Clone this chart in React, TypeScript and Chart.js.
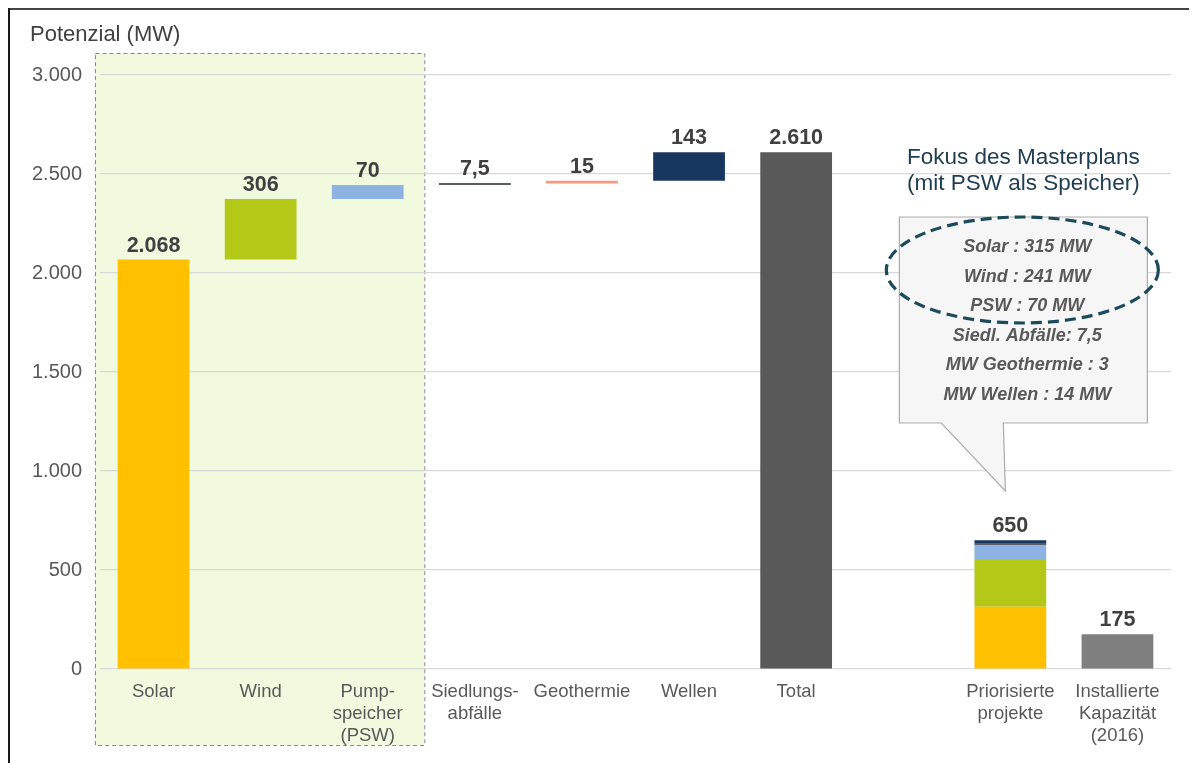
import React, { useEffect, useRef } from "react";
import { Chart, registerables } from "chart.js";
Chart.register(...registerables);

const categories: string[][] = [
  ["Solar"],
  ["Wind"],
  ["Pump-", "speicher", "(PSW)"],
  ["Siedlungs-", "abfälle"],
  ["Geothermie"],
  ["Wellen"],
  ["Total"],
  [""],
  ["Priorisierte", "projekte"],
  ["Installierte", "Kapazität", "(2016)"],
];
const sourceNames = ["Solar", "Wind", "PSW", "Siedlungsabfälle", "Geothermie", "Wellen"];
const potentialMW = [2068, 306, 70, 7.5, 15, 143];
const prioritizedMW = [315, 241, 70, 7.5, 3, 14];
const totalMW = 2610;
const installedMW = 175;
const valueLabels = ["2.068", "306", "70", "7,5", "15", "143", "2.610", "", "650", "175"];
const calloutLines = [
  "Solar : 315 MW",
  "Wind : 241 MW",
  "PSW : 70 MW",
  "Siedl. Abfälle: 7,5",
  "MW Geothermie : 3",
  "MW Wellen : 14 MW",
];
const calloutTitle = ["Fokus des Masterplans", "(mit PSW als Speicher)"];
const yTitle = "Potenzial (MW)";

const sourceColors = ["#FFC000", "#B4C817", "#8DB3E2", "#575C68", "#F7997C", "#17375E"];
const totalColor = "#595959";
const installedColor = "#7F7F80";
const FONT = "'Liberation Sans', Arial, sans-serif";

function fmt(v: number): string {
  const s = Math.round(v).toString();
  return s.replace(/\B(?=(\d{3})+(?!\d))/g, ".");
}

export default function App() {
  const ref = useRef<HTMLCanvasElement | null>(null);
  useEffect(() => {
    const canvas = ref.current;
    if (!canvas) return;
    const n = categories.length;
    const datasets: any[] = [];
    let cumP = 0;
    let cumQ = 0;
    sourceNames.forEach((name, i) => {
      const data: any[] = new Array(n).fill(null);
      data[i] = [cumP, cumP + potentialMW[i]];
      data[8] = [cumQ, cumQ + prioritizedMW[i]];
      cumP += potentialMW[i];
      cumQ += prioritizedMW[i];
      datasets.push({
        label: name,
        data,
        backgroundColor: sourceColors[i],
        borderWidth: 0,
        minBarLength: i === 3 ? 2 : 0,
      });
    });
    const tData: any[] = new Array(n).fill(null);
    tData[6] = [0, totalMW];
    datasets.push({ label: "Total", data: tData, backgroundColor: totalColor, borderWidth: 0 });
    const iData: any[] = new Array(n).fill(null);
    iData[9] = [0, installedMW];
    datasets.push({ label: "Installiert", data: iData, backgroundColor: installedColor, borderWidth: 0 });

    const deco = {
      id: "deco",
      beforeDraw(chart: any) {
        const { ctx, chartArea, scales } = chart;
        const x = scales.x;
        ctx.save();
        const left = chartArea.left - 5;
        const right = (x.getPixelForValue(2) + x.getPixelForValue(3)) / 2 + 3;
        const top = chartArea.top - 22;
        const bottom = chart.height - 18;
        ctx.fillStyle = "#F1FADF";
        ctx.fillRect(left, top, right - left, bottom - top);
        ctx.setLineDash([4, 3]);
        ctx.strokeStyle = "#8a8a8a";
        ctx.lineWidth = 1;
        ctx.strokeRect(left + 0.5, top + 0.5, right - left, bottom - top);
        ctx.setLineDash([]);
        ctx.fillStyle = "#444";
        ctx.fillRect(0, 0, chart.width, 2);
        ctx.fillStyle = "#1a1a1a";
        ctx.fillRect(0, 0, 2, chart.height);
        ctx.restore();
      },
      afterDatasetsDraw(chart: any) {
        const { ctx } = chart;
        ctx.save();
        ctx.font = `bold 21.5px ${FONT}`;
        ctx.fillStyle = "#404040";
        ctx.textAlign = "center";
        ctx.textBaseline = "alphabetic";
        for (let j = 0; j < n; j++) {
          if (!valueLabels[j]) continue;
          let minY = Infinity;
          let cx = 0;
          chart.data.datasets.forEach((ds: any, d: number) => {
            if (ds.data[j] == null) return;
            const el = chart.getDatasetMeta(d).data[j];
            const t = Math.min(el.y, el.base);
            if (t < minY) {
              minY = t;
              cx = el.x;
            }
          });
          ctx.fillText(valueLabels[j], cx, minY - 8);
        }
        ctx.restore();
      },
      afterDraw(chart: any) {
        const { ctx, scales } = chart;
        const px = scales.x.getPixelForValue(8);
        ctx.save();
        ctx.font = `22px ${FONT}`;
        ctx.fillStyle = "#404040";
        ctx.textAlign = "left";
        ctx.textBaseline = "middle";
        ctx.fillText(yTitle, 22, 27);
        ctx.font = `22.5px ${FONT}`;
        ctx.fillStyle = "#213F52";
        ctx.textAlign = "center";
        ctx.fillText(calloutTitle[0], px + 13, 150);
        ctx.fillText(calloutTitle[1], px + 13, 176);
        const bl = px - 111, br = px + 137, bt = 209, bb = 415;
        ctx.beginPath();
        ctx.moveTo(bl, bt);
        ctx.lineTo(br, bt);
        ctx.lineTo(br, bb);
        ctx.lineTo(px - 7, bb);
        ctx.lineTo(px - 5, 483);
        ctx.lineTo(px - 69, bb);
        ctx.lineTo(bl, bb);
        ctx.closePath();
        ctx.fillStyle = "#F6F6F6";
        ctx.fill();
        ctx.strokeStyle = "#ABABAB";
        ctx.lineWidth = 1.2;
        ctx.stroke();
        ctx.beginPath();
        ctx.ellipse(px + 12, 262, 136, 53, 0, 0, Math.PI * 2);
        ctx.setLineDash([11, 6]);
        ctx.strokeStyle = "#1C4A5A";
        ctx.lineWidth = 3.2;
        ctx.stroke();
        ctx.setLineDash([]);
        ctx.font = `italic bold 18px ${FONT}`;
        ctx.fillStyle = "#595959";
        calloutLines.forEach((t, i) => {
          ctx.fillText(t, px + 17, 239 + i * 29.6);
        });
        ctx.restore();
      },
    };

    const chart = new Chart(canvas, {
      type: "bar",
      data: { labels: categories as any, datasets },
      options: {
        animation: false,
        responsive: false,
        maintainAspectRatio: false,
        layout: { padding: { top: 67, right: 26, left: 0, bottom: 0 } },
        datasets: { bar: { grouped: false, categoryPercentage: 1, barPercentage: 0.67 } } as any,
        plugins: { legend: { display: false }, tooltip: { enabled: false } },
        scales: {
          x: {
            grid: { display: false },
            border: { display: false },
            ticks: {
              color: "#595959",
              font: { family: FONT, size: 18.5, lineHeight: 1.19 },
              padding: 4,
              maxRotation: 0,
              autoSkip: false,
            },
            afterFit: (s: any) => {
              s.height = 94;
            },
          },
          y: {
            min: 0,
            max: 3000,
            grid: { color: "#D9D9D9", lineWidth: 1.2, drawTicks: false },
            border: { display: false },
            ticks: {
              stepSize: 500,
              color: "#595959",
              font: { family: FONT, size: 20 },
              padding: 18,
              callback: (v: any) => fmt(Number(v)),
            },
            afterFit: (s: any) => {
              s.width = 92;
            },
          },
        },
      },
      plugins: [deco],
    });
    return () => chart.destroy();
  }, []);

  return (
    <div style={{ width: 1189, height: 755 }}>
      <style>{"html,body{overflow:hidden;}"}</style>
      <canvas ref={ref} width={1189} height={755} style={{ display: "block" }} />
    </div>
  );
}
